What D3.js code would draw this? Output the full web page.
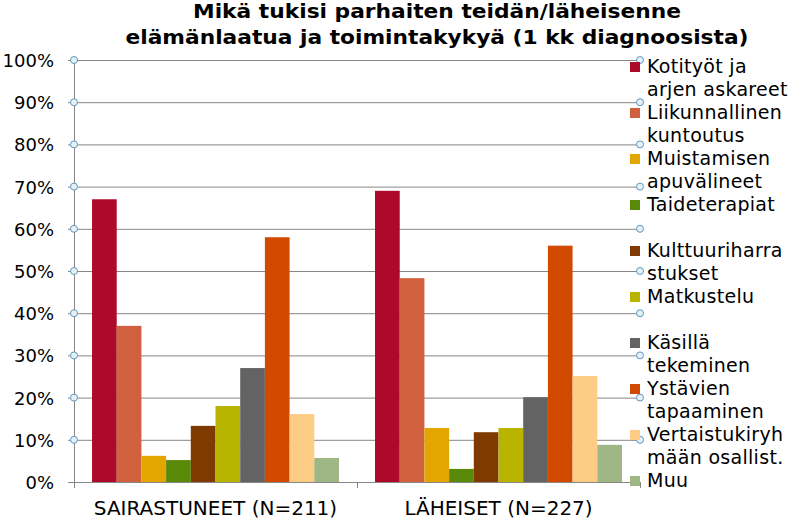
<!DOCTYPE html>
<html><head><meta charset="utf-8">
<script src="https://cdn.jsdelivr.net/npm/d3@7"></script>
<style>
html,body{margin:0;padding:0;background:#fff;}
svg{display:block;}
text{font-family:"DejaVu Sans",Verdana,sans-serif;fill:#000;}
</style></head>
<body>
<svg id="chart" width="795" height="521"></svg>
<script>
const titleLines = ["Mikä tukisi parhaiten teidän/läheisenne", "elämänlaatua ja toimintakykyä (1 kk diagnoosista)"];
const categories = ["SAIRASTUNEET (N=211)", "LÄHEISET (N=227)"];
const seriesNames = ["Kotityöt ja arjen askareet","Liikunnallinen kuntoutus","Muistamisen apuvälineet","Taideterapiat","Kulttuuriharrastukset","Matkustelu","Käsillä tekeminen","Ystävien tapaaminen","Vertaistukiryhmään osallist.","Muu"];
const legendLines = [["Kotityöt ja","arjen askareet"],["Liikunnallinen","kuntoutus"],["Muistamisen","apuvälineet"],["Taideterapiat",""],["Kulttuuriharra","stukset"],["Matkustelu",""],["Käsillä","tekeminen"],["Ystävien","tapaaminen"],["Vertaistukiryh","mään osallist."],["Muu"]];
const sairastuneet = [67, 37, 6.2, 5.2, 13.3, 18, 27, 58, 16.1, 5.7];
const laheiset = [69, 48.3, 12.8, 3.1, 11.8, 12.8, 20.1, 56, 25.1, 8.8];
const colors = ["#ad0a2a","#d0603e","#e3a600","#5a8a0a","#7f3a02","#b8b400","#636363","#d24a00","#fdcc85","#9fb784"];
const yTicks = [0,10,20,30,40,50,60,70,80,90,100];

(function(){
const values = [sairastuneet, laheiset];
const svg = d3.select("#chart");
const pLeft = 74, pRight = 640, pTop = 60, pBottom = 482;

const x0 = d3.scaleBand().domain(categories).range([pLeft, pRight]).padding(0);
const x1 = d3.scaleBand().domain(seriesNames).range([0, x0.bandwidth()]).paddingInner(0).paddingOuter(0.73);
const y = d3.scaleLinear().domain([0, 100]).range([pBottom, pTop]);
const gridColor = "#868686";

// gridlines
svg.append("g").selectAll("line").data(yTicks.filter(d => d > 0)).join("line")
  .attr("x1", pLeft).attr("x2", pRight).attr("y1", d => y(d) + 0.5).attr("y2", d => y(d) + 0.5)
  .attr("stroke", gridColor).attr("stroke-width", 1);

// bars
const g = svg.append("g");
categories.forEach((c, ci) => {
  g.append("g").selectAll("rect").data(values[ci]).join("rect")
    .attr("x", (d, i) => x0(c) + x1(seriesNames[i]))
    .attr("width", x1.bandwidth())
    .attr("y", d => y(d))
    .attr("height", d => y(0) - y(d))
    .attr("fill", (d, i) => colors[i]);
});

// y axis
const yAxis = d3.axisLeft(y).tickValues(yTicks).tickFormat(d => d + "%").tickSize(6).tickSizeOuter(0);
const ya = svg.append("g").attr("transform", `translate(${pLeft},0)`).call(yAxis);
ya.select(".domain").attr("stroke", gridColor);
ya.selectAll(".tick line").attr("stroke", gridColor);
ya.selectAll(".tick text").attr("x", -20).attr("dy", "0.36em").style("font-size", "18px").style("font-family", '"DejaVu Sans",Verdana,sans-serif').attr("fill", "#000");

// x axis
const xAxis = d3.axisBottom(x0).tickSize(0).tickSizeOuter(0);
const xa = svg.append("g").attr("transform", `translate(0,${pBottom})`).call(xAxis);
xa.select(".domain").attr("stroke", gridColor);
xa.selectAll(".tick text").attr("y", 33).attr("dy", null).style("font-size", "20px")
  .style("font-family", '"DejaVu Sans",Verdana,sans-serif').attr("fill", "#000");
// x divider ticks
const divs = [pLeft, x0(categories[1]), pRight];
svg.append("g").selectAll("line").data(divs).join("line")
  .attr("x1", d => d + 0.5).attr("x2", d => d + 0.5).attr("y1", pBottom).attr("y2", pBottom + 6)
  .attr("stroke", gridColor);

// selection handles on gridlines
const handles = [];
yTicks.filter(d => d > 0).forEach(t => { handles.push([pLeft, y(t)]); handles.push([pRight, y(t)]); });
svg.append("g").selectAll("circle").data(handles).join("circle")
  .attr("cx", d => d[0]).attr("cy", d => d[1]).attr("r", 3.5)
  .attr("fill", "#e6f1f7").attr("stroke", "#5f97bd").attr("stroke-width", 1);

// title
const titleWidths = [488, 623];
svg.append("g").selectAll("text").data(titleLines).join("text")
  .attr("x", 437).attr("y", (d, i) => 18 + i * 26)
  .attr("text-anchor", "middle").style("font-size", "20px").style("font-weight", "bold")
  .attr("textLength", (d, i) => titleWidths[i]).attr("lengthAdjust", "spacingAndGlyphs").text(d => d);

// legend
let lineIdx = 0;
const lg = svg.append("g");
legendLines.forEach((lines, i) => {
  const base = 73 + 23 * lineIdx;
  lg.append("rect").attr("x", 630).attr("y", base - 11).attr("width", 10).attr("height", 10).attr("fill", colors[i]);
  lines.forEach((l, k) => {
    lg.append("text").attr("x", 647).attr("y", base + 23 * k).style("font-size", "19px").style("letter-spacing", "0.3px").text(l);
  });
  lineIdx += lines.length;
});
})();
</script>
</body></html>
